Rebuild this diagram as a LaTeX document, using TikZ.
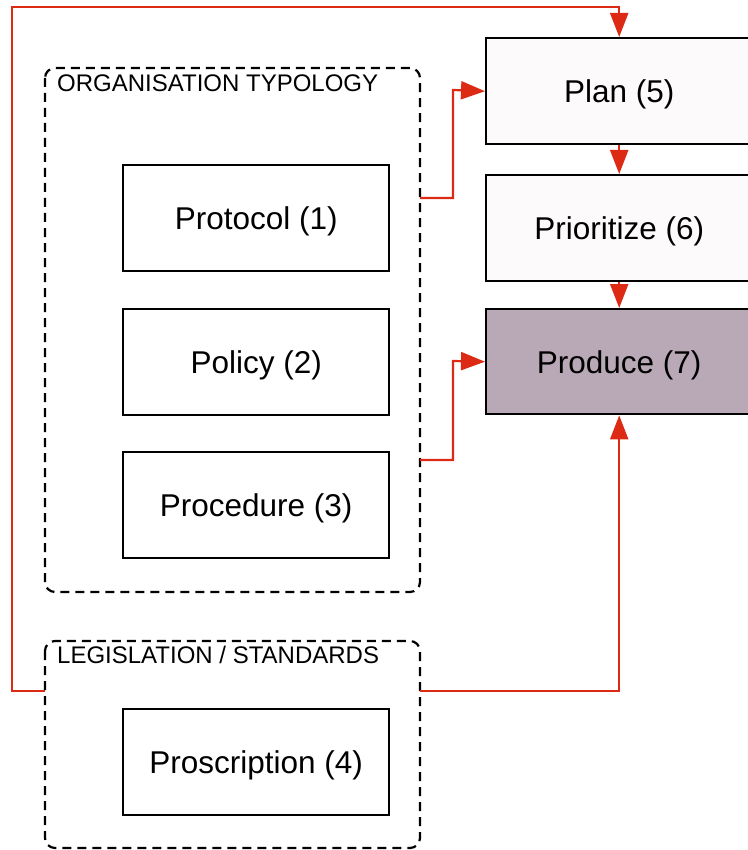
\documentclass[tikz,border=0pt]{standalone}
\usepackage{fontspec}
\setmainfont{Liberation Sans}
\usetikzlibrary{arrows.meta}
\definecolor{flowred}{HTML}{DC2A14}
\definecolor{palefill}{HTML}{FDFAFC}
\definecolor{mauve}{HTML}{B9A8B5}
\begin{document}
\begin{tikzpicture}[x=1pt,y=-1pt,
  stepbox/.style={draw=black,line width=2.4pt,minimum width=266pt,minimum height=106pt,
    inner sep=0pt,text height=22.6pt,text depth=0pt,
    font=\fontsize{31.5}{36}\selectfont,anchor=north west},
  group/.style={draw=black,line width=2.2pt,dash pattern=on 9pt off 6pt,rounded corners=10pt},
  grouplabel/.style={anchor=base west,inner sep=0pt,font=\fontsize{24}{28}\selectfont},
  flow/.style={draw=flowred,line width=2.2pt,-{Triangle[length=24pt,width=18pt]}}]
\useasboundingbox (0,0) rectangle (747,850);

% groups
\draw[group] (45,68) rectangle (420,592);
\node[grouplabel] (orglbl) at (57,92) {ORGANISATION TYPOLOGY};
\draw[group] (45,641) rectangle (420,848);
\node[grouplabel] (leglbl) at (57,663) {LEGISLATION / STANDARDS};
\coordinate (orgP) at (420,198);
\coordinate (orgR) at (420,460);
\coordinate (legL) at (45,691);
\coordinate (legR) at (420,691);

% left column
\node[stepbox,fill=white] (protocol) at (122,164) {Protocol (1)};
\node[stepbox,fill=white] (policy) at (122,308) {Policy (2)};
\node[stepbox,fill=white] (procedure) at (122,451) {Procedure (3)};
\node[stepbox,fill=white] (proscription) at (122,708) {Proscription (4)};

% right column
\node[stepbox,fill=palefill] (plan) at (485,37) {Plan (5)};
\node[stepbox,fill=palefill] (prioritize) at (485,174) {Prioritize (6)};
\node[stepbox,fill=mauve,minimum height=105pt] (produce) at (485,308) {Produce (7)};

% connectors
\draw[flow] (plan.south) -- (prioritize.north);
\draw[flow] (prioritize.south) -- (produce.north);
\draw[flow] (orgP) -- (453,198) -- (453,90) -- (plan.west);
\draw[flow] (orgR) -- (453,460) -- (453,361) -- (produce.west);
\draw[flow] (legL) -- (12,691) -- (12,7) -- (plan.north |- 0,7) -- (plan.north);
\draw[flow] (legR) -- (produce.south |- legR) -- (produce.south);
\end{tikzpicture}
\end{document}
